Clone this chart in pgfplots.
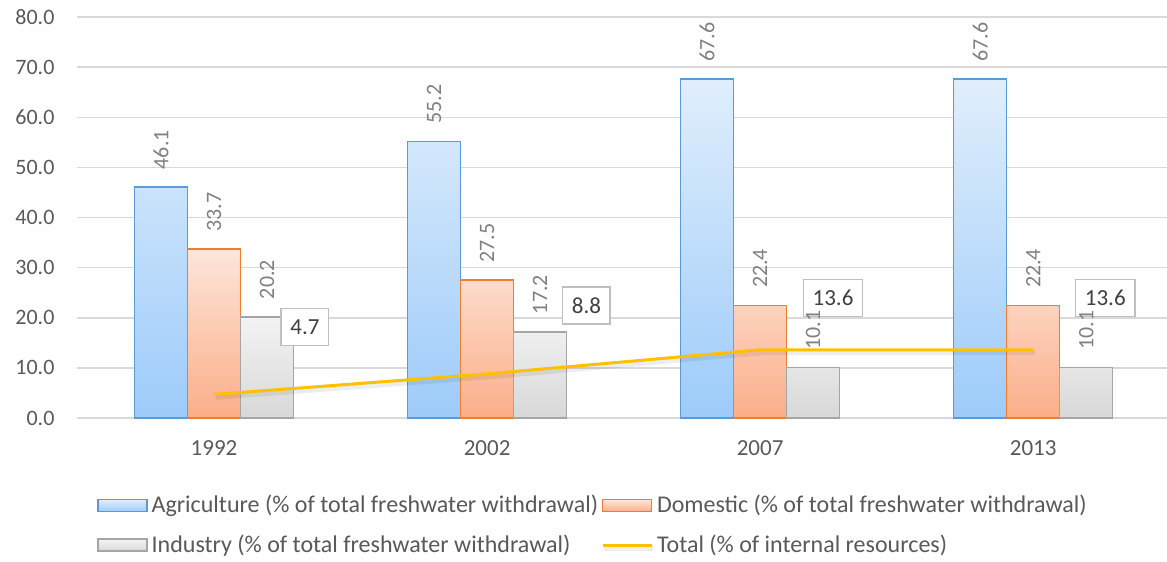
\documentclass[border=0pt]{standalone}
\usepackage{fontspec}
\setmainfont{Carlito}
\usepackage{pgfplots}
\pgfplotsset{compat=1.18}
\definecolor{agriB}{HTML}{5B9BD5}
\definecolor{agriT}{RGB}{224,238,252}
\definecolor{agriBot}{RGB}{157,203,250}
\definecolor{domB}{HTML}{ED7D31}
\definecolor{domT}{RGB}{253,229,218}
\definecolor{domBot}{RGB}{251,174,136}
\definecolor{indB}{HTML}{A5A5A5}
\definecolor{indT}{RGB}{243,243,243}
\definecolor{indBot}{RGB}{216,216,216}
\definecolor{tot}{HTML}{FFC000}
\definecolor{gridc}{HTML}{D9D9D9}
\definecolor{ticktxt}{HTML}{595959}
\definecolor{lbltxt}{HTML}{808080}
\definecolor{boxtxt}{HTML}{404040}
\definecolor{boxdraw}{HTML}{BFBFBF}

\pgfplotsset{
  barlabels/.style={
    nodes near coords={\pgfmathprintnumber[fixed,fixed zerofill,precision=1,assume math mode=true]{\pgfplotspointmeta}},
    every node near coord/.append style={xshift=#1, rotate=90, anchor=west, text=lbltxt, inner xsep=8.5pt, font=\fontsize{11}{13}\selectfont},
  },
  boxlegend/.style={legend image code/.code={\draw[##1, line width=0.75pt] (0pt,-3pt) rectangle (24.5pt,3pt);}},
}

\begin{document}
\begin{tikzpicture}
\begin{axis}[
  scale only axis, width=544.75pt, height=200.5pt,
  at={(0,0)}, anchor=south west,
  xmin=-0.5, xmax=3.49, ymin=0, ymax=80,
  ytick={0,10,...,80},
  xtick={0,1,2,3}, xticklabels={1992,2002,2007,2013},
  ymajorgrids, grid style={draw=gridc, line width=0.75pt},
  axis line style={draw=none},
  major tick length=0pt,
  font=\fontsize{11}{13}\selectfont,
  yticklabel={\pgfmathprintnumber[fixed,fixed zerofill,precision=1,assume math mode=true]{\tick}},
  yticklabel style={text=ticktxt, xshift=-8pt},
  xticklabel style={text=ticktxt, yshift=-8pt, font=\fontsize{11.5}{13}\selectfont},
  legend columns=2,
  legend cell align=left,
  legend style={at={(0.474,-0.268)}, anchor=center, draw=none, text=ticktxt,
    font=\fontsize{12}{14}\selectfont, row sep=5.5pt,
    /tikz/every even column/.append style={column sep=-0.5pt}},
  clip=false,
]
\addplot[ybar, bar width=0.194, bar shift=-0.194, draw=agriB, line width=0.75pt,
  top color=agriT, bottom color=agriBot, barlabels=-26.5pt, boxlegend]
  coordinates {(0,46.1) (1,55.2) (2,67.6) (3,67.6)};
\addlegendentry{Agriculture (\% of total freshwater withdrawal)}
\addplot[ybar, bar width=0.194, bar shift=0, draw=domB, line width=0.75pt,
  top color=domT, bottom color=domBot, barlabels=0pt, boxlegend]
  coordinates {(0,33.7) (1,27.5) (2,22.4) (3,22.4)};
\addlegendentry{Domestic (\% of total freshwater withdrawal)}
\addplot[ybar, bar width=0.194, bar shift=0.194, draw=indB, line width=0.75pt,
  top color=indT, bottom color=indBot, barlabels=26.5pt, boxlegend]
  coordinates {(0,20.2) (1,17.2) (2,10.1) (3,10.1)};
\addlegendentry{Industry (\% of total freshwater withdrawal)}
\addplot[sharp plot, draw=tot, line width=1.5pt, mark=none,
  preaction={draw=black, draw opacity=0.07, line width=2.4pt, transform canvas={shift={(0.8pt,-1.5pt)}}},
  legend image code/.code={\draw[draw=tot, line width=1.5pt] (0pt,0pt) -- (24.5pt,0pt);}]
  coordinates {(0,4.7) (1,8.8) (2,13.6) (3,13.6)};
\addlegendentry{Total (\% of internal resources)}
\begin{scope}[every node/.style={draw=boxdraw, line width=0.75pt, fill=white, text=boxtxt,
    inner xsep=4.6pt, inner ysep=0pt, minimum height=18.5pt, font=\fontsize{11.5}{13}\selectfont}]
\node at (axis cs:0.333,18.2) {4.7};
\node at (axis cs:1.364,22.4) {8.8};
\node at (axis cs:2.267,23.9) {13.6};
\node at (axis cs:3.264,23.9) {13.6};
\end{scope}
\end{axis}
\pgfresetboundingbox
\path[use as bounding box] (-38.75pt,-72pt) rectangle (544.75pt,209pt);
\end{tikzpicture}
\end{document}
